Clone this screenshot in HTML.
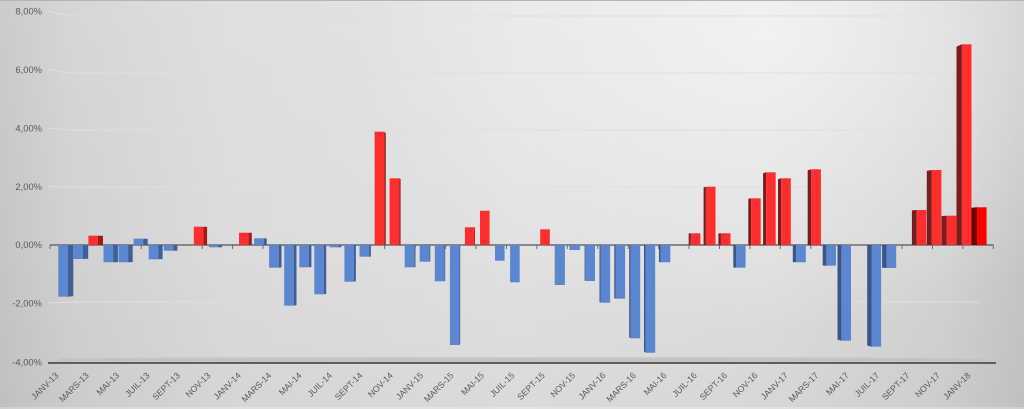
<!DOCTYPE html>
<html>
<head>
<meta charset="utf-8">
<style>
html,body{margin:0;padding:0;}
#c{position:relative;width:1024px;height:409px;overflow:hidden;
background:
 radial-gradient(ellipse 420px 300px at 770px 35px, rgba(255,255,255,0.55), rgba(255,255,255,0) 100%),
 linear-gradient(180deg, rgba(255,255,255,0.10) 0%, rgba(255,255,255,0) 55%, rgba(0,0,0,0.03) 100%),
 linear-gradient(90deg,#c6c6c6 0%,#d2d2d2 7%,#dcdcdc 22%,#e1e1e1 50%,#dedede 75%,#d3d3d3 92%,#c6c6c6 100%);
box-shadow:inset 0 1px 0 #b4b4b4, inset 0 -2px 0 rgba(255,255,255,0.25);}
svg{position:absolute;left:0;top:0;}
.yl{font-family:"Liberation Sans",sans-serif;font-size:9.4px;fill:#595959;}
.xl{font-family:"Liberation Sans",sans-serif;font-size:8.7px;fill:#595959;}
.b{fill:#5a87d0}.bs1{fill:#3f5f95}.bs2{fill:#3a5586}
.r{fill:#ff2e2e}.rs1{fill:#a01a1a}.rs2{fill:#781d1d}
.r2{fill:#ff0000}.r2s{fill:#6a0000}
.g{stroke:#dfdfdf;stroke-width:1.1;fill:none}
</style>
</head>
<body>
<div id="c">
<svg width="1024" height="409" viewBox="0 0 1024 409" xmlns="http://www.w3.org/2000/svg">
<!-- gridlines -->
<polyline class="g" points="48,11 62,14.5 72,16 979,16"/>
<polyline class="g" points="48,69.5 62,72 72,73 979,73"/>
<polyline class="g" points="48,128 62,129.5 72,130 979,130"/>
<polyline class="g" points="48,186.5 62,187 72,187 979,187"/>
<polyline class="g" points="48,303 62,302.3 72,302 979,302"/>
<!-- floor -->
<polygon points="65,357 978,357 996,362.5 50,362.5" fill="#c4c4c4"/>
<line x1="65" y1="357.3" x2="978" y2="357.3" stroke="#d2d2d2" stroke-width="0.8"/>
<line x1="48" y1="363" x2="996" y2="363" stroke="#5e5e5e" stroke-width="2"/>
<!-- y labels -->
<text class="yl" x="42" y="14.4" text-anchor="end">8,00%</text>
<text class="yl" x="42" y="72.9" text-anchor="end">6,00%</text>
<text class="yl" x="42" y="131.4" text-anchor="end">4,00%</text>
<text class="yl" x="42" y="189.9" text-anchor="end">2,00%</text>
<text class="yl" x="42" y="247.9" text-anchor="end">0,00%</text>
<text class="yl" x="42" y="306.4" text-anchor="end">-2,00%</text>
<text class="yl" x="42" y="365.4" text-anchor="end">-4,00%</text>
<!-- zero axis -->
<line x1="50" y1="245" x2="993.5" y2="245" stroke="#6a6a6a" stroke-width="1.6"/>
<g stroke="#6a6a6a" stroke-width="1">
<line x1="50" y1="245" x2="50" y2="249"/><line x1="80.4" y1="245" x2="80.4" y2="249"/><line x1="110.9" y1="245" x2="110.9" y2="249"/><line x1="141.3" y1="245" x2="141.3" y2="249"/><line x1="171.7" y1="245" x2="171.7" y2="249"/><line x1="202.2" y1="245" x2="202.2" y2="249"/><line x1="232.6" y1="245" x2="232.6" y2="249"/><line x1="263" y1="245" x2="263" y2="249"/><line x1="293.4" y1="245" x2="293.4" y2="249"/><line x1="323.9" y1="245" x2="323.9" y2="249"/><line x1="354.3" y1="245" x2="354.3" y2="249"/><line x1="384.7" y1="245" x2="384.7" y2="249"/><line x1="415.2" y1="245" x2="415.2" y2="249"/><line x1="445.6" y1="245" x2="445.6" y2="249"/><line x1="476" y1="245" x2="476" y2="249"/><line x1="506.5" y1="245" x2="506.5" y2="249"/><line x1="536.9" y1="245" x2="536.9" y2="249"/><line x1="567.3" y1="245" x2="567.3" y2="249"/><line x1="597.7" y1="245" x2="597.7" y2="249"/><line x1="628.2" y1="245" x2="628.2" y2="249"/><line x1="658.6" y1="245" x2="658.6" y2="249"/><line x1="689" y1="245" x2="689" y2="249"/><line x1="719.5" y1="245" x2="719.5" y2="249"/><line x1="749.9" y1="245" x2="749.9" y2="249"/><line x1="780.3" y1="245" x2="780.3" y2="249"/><line x1="810.8" y1="245" x2="810.8" y2="249"/><line x1="841.2" y1="245" x2="841.2" y2="249"/><line x1="871.6" y1="245" x2="871.6" y2="249"/><line x1="902" y1="245" x2="902" y2="249"/><line x1="932.5" y1="245" x2="932.5" y2="249"/><line x1="962.9" y1="245" x2="962.9" y2="249"/><line x1="993.3" y1="245" x2="993.3" y2="249"/>
</g>
<!-- bars -->
<rect class="b" x="58.3" y="245" width="9.6" height="51.7"/><polygon class="bs1" points="67.9,245 67.9,296.7 73.3,296.1 73.3,245"/>
<rect class="b" x="73.4" y="245" width="9.6" height="14"/><polygon class="bs1" points="83,245 83,259 88.2,258.8 88.2,245"/>
<rect class="r" x="88.4" y="235.7" width="9.6" height="9.3"/><polygon class="rs1" points="98,245 98,235.7 103,235.8 103,245"/>
<rect class="b" x="103.5" y="245" width="9.6" height="17.3"/><polygon class="bs1" points="113.1,245 113.1,262.3 117.9,262.1 117.9,245"/>
<rect class="b" x="118.5" y="245" width="9.6" height="17.3"/><polygon class="bs1" points="128.1,245 128.1,262.3 132.7,262.1 132.7,245"/>
<rect class="b" x="133.6" y="238.7" width="9.6" height="6.3"/><polygon class="bs1" points="143.2,245 143.2,238.7 147.7,238.8 147.7,245"/>
<rect class="b" x="148.7" y="245" width="9.6" height="14.3"/><polygon class="bs1" points="158.3,245 158.3,259.3 162.6,259.1 162.6,245"/>
<rect class="b" x="163.7" y="245" width="9.6" height="5.7"/><polygon class="bs1" points="173.3,245 173.3,250.7 177.4,250.6 177.4,245"/>
<rect class="r" x="193.8" y="226.7" width="9.6" height="18.3"/><polygon class="rs1" points="203.4,245 203.4,226.7 207.1,226.9 207.1,245"/>
<rect class="b" x="208.9" y="245" width="9.6" height="2.3"/><polygon class="bs1" points="218.5,245 218.5,247.3 222.1,247.3 222.1,245"/>
<rect class="r" x="239" y="232.7" width="9.6" height="12.3"/><polygon class="rs1" points="248.6,245 248.6,232.7 251.8,232.8 251.8,245"/>
<rect class="b" x="254.1" y="238.3" width="9.6" height="6.7"/><polygon class="bs1" points="263.7,245 263.7,238.3 266.7,238.4 266.7,245"/>
<rect class="b" x="269.1" y="245" width="9.6" height="22.7"/><polygon class="bs1" points="278.7,245 278.7,267.7 281.5,267.4 281.5,245"/>
<rect class="b" x="284.2" y="245" width="9.6" height="60.7"/><polygon class="bs1" points="293.8,245 293.8,305.7 296.5,305 296.5,245"/>
<rect class="b" x="299.3" y="245" width="9.6" height="22.3"/><polygon class="bs1" points="308.9,245 308.9,267.3 311.4,267 311.4,245"/>
<rect class="b" x="314.3" y="245" width="9.6" height="49.3"/><polygon class="bs1" points="323.9,245 323.9,294.3 326.2,293.7 326.2,245"/>
<rect class="b" x="329.4" y="245" width="9.6" height="2.3"/><polygon class="bs1" points="339,245 339,247.3 341.1,247.3 341.1,245"/>
<rect class="b" x="344.4" y="245" width="9.6" height="36.7"/><polygon class="bs1" points="354,245 354,281.7 355.9,281.3 355.9,245"/>
<rect class="b" x="359.5" y="245" width="9.6" height="11.7"/><polygon class="bs1" points="369.1,245 369.1,256.7 370.9,256.6 370.9,245"/>
<rect class="r" x="374.6" y="131.7" width="9.6" height="113.3"/><polygon class="rs1" points="384.2,245 384.2,131.7 385.8,133.1 385.8,245"/>
<rect class="r" x="389.6" y="178.3" width="9.6" height="66.7"/><polygon class="rs1" points="399.2,245 399.2,178.3 400.6,179.1 400.6,245"/>
<rect class="b" x="404.7" y="245" width="9.6" height="22.3"/><polygon class="bs1" points="414.3,245 414.3,267.3 415.5,267 415.5,245"/>
<rect class="b" x="419.7" y="245" width="9.6" height="16.7"/><polygon class="bs1" points="429.3,245 429.3,261.7 430.3,261.5 430.3,245"/>
<rect class="b" x="434.8" y="245" width="9.6" height="36.3"/><polygon class="bs1" points="444.4,245 444.4,281.3 445.2,280.9 445.2,245"/>
<rect class="b" x="449.9" y="245" width="9.6" height="100"/><polygon class="bs1" points="459.5,245 459.5,345 460.2,343.8 460.2,245"/>
<rect class="r" x="464.9" y="227.3" width="9.6" height="17.7"/><polygon class="rs1" points="474.5,245 474.5,227.3 475,227.5 475,245"/>
<rect class="r" x="480" y="210.7" width="9.6" height="34.3"/>
<rect class="b" x="495" y="245" width="9.6" height="15.7"/>
<rect class="b" x="510.1" y="245" width="9.6" height="37.3"/>
<rect class="r" x="540.2" y="229.3" width="9.6" height="15.7"/>
<polygon class="bs2" points="555.3,245 555.3,285 554.8,284.5 554.8,245"/><rect class="b" x="555.3" y="245" width="9.6" height="40"/>
<polygon class="bs2" points="570.3,245 570.3,250 569.6,250 569.6,245"/><rect class="b" x="570.3" y="245" width="9.6" height="5"/>
<polygon class="bs2" points="585.4,245 585.4,281 584.6,280.6 584.6,245"/><rect class="b" x="585.4" y="245" width="9.6" height="36"/>
<polygon class="bs2" points="600.5,245 600.5,302.7 599.5,302 599.5,245"/><rect class="b" x="600.5" y="245" width="9.6" height="57.7"/>
<polygon class="bs2" points="615.5,245 615.5,298.7 614.3,298.1 614.3,245"/><rect class="b" x="615.5" y="245" width="9.6" height="53.7"/>
<polygon class="bs2" points="630.6,245 630.6,338.3 629.2,337.2 629.2,245"/><rect class="b" x="630.6" y="245" width="9.6" height="93.3"/>
<polygon class="bs2" points="645.6,245 645.6,352.7 644,351.4 644,245"/><rect class="b" x="645.6" y="245" width="9.6" height="107.7"/>
<polygon class="bs2" points="660.7,245 660.7,262.3 659,262.1 659,245"/><rect class="b" x="660.7" y="245" width="9.6" height="17.3"/>
<polygon class="rs2" points="690.8,245 690.8,233.3 688.7,233.4 688.7,245"/><rect class="r" x="690.8" y="233.3" width="9.6" height="11.7"/>
<polygon class="rs2" points="705.9,245 705.9,186.7 703.6,187.4 703.6,245"/><rect class="r" x="705.9" y="186.7" width="9.6" height="58.3"/>
<polygon class="rs2" points="720.9,245 720.9,233.3 718.4,233.4 718.4,245"/><rect class="r" x="720.9" y="233.3" width="9.6" height="11.7"/>
<polygon class="bs2" points="736,245 736,267.7 733.3,267.4 733.3,245"/><rect class="b" x="736" y="245" width="9.6" height="22.7"/>
<polygon class="rs2" points="751.1,245 751.1,198.3 748.3,198.9 748.3,245"/><rect class="r" x="751.1" y="198.3" width="9.6" height="46.7"/>
<polygon class="rs2" points="766.1,245 766.1,172.3 763.1,173.2 763.1,245"/><rect class="r" x="766.1" y="172.3" width="9.6" height="72.7"/>
<polygon class="rs2" points="781.2,245 781.2,178.3 778,179.1 778,245"/><rect class="r" x="781.2" y="178.3" width="9.6" height="66.7"/>
<polygon class="bs2" points="796.2,245 796.2,262.3 792.8,262.1 792.8,245"/><rect class="b" x="796.2" y="245" width="9.6" height="17.3"/>
<polygon class="rs2" points="811.3,245 811.3,169.3 807.7,170.2 807.7,245"/><rect class="r" x="811.3" y="169.3" width="9.6" height="75.7"/>
<polygon class="bs2" points="826.4,245 826.4,265.7 822.7,265.5 822.7,245"/><rect class="b" x="826.4" y="245" width="9.6" height="20.7"/>
<polygon class="bs2" points="841.4,245 841.4,340.7 837.5,339.6 837.5,245"/><rect class="b" x="841.4" y="245" width="9.6" height="95.7"/>
<polygon class="bs2" points="871.5,245 871.5,346.7 867.2,345.5 867.2,245"/><rect class="b" x="871.5" y="245" width="9.6" height="101.7"/>
<polygon class="bs2" points="886.6,245 886.6,268 882.1,267.7 882.1,245"/><rect class="b" x="886.6" y="245" width="9.6" height="23"/>
<polygon class="rs2" points="916.7,245 916.7,210 911.9,210.4 911.9,245"/><rect class="r" x="916.7" y="210" width="9.6" height="35"/>
<polygon class="rs2" points="931.8,245 931.8,170 926.8,170.9 926.8,245"/><rect class="r" x="931.8" y="170" width="9.6" height="75"/>
<polygon class="rs2" points="946.8,245 946.8,215.7 941.6,216.1 941.6,245"/><rect class="r" x="946.8" y="215.7" width="9.6" height="29.3"/>
<polygon class="rs2" points="961.9,245 961.9,44.3 956.5,46.7 956.5,245"/><rect class="r" x="961.9" y="44.3" width="9.6" height="200.7"/>
<polygon class="r2s" points="977,245 977,207.3 971.5,207.8 971.5,245"/><rect class="r2" x="977" y="207.3" width="9.6" height="37.7"/>
<!-- x labels -->
<g class="xl" text-anchor="end">
<text transform="translate(59,376) rotate(-45)">JANV-13</text>
<text transform="translate(89.4,376) rotate(-45)">MARS-13</text>
<text transform="translate(119.8,376) rotate(-45)">MAI-13</text>
<text transform="translate(150.2,376) rotate(-45)">JUIL-13</text>
<text transform="translate(180.6,376) rotate(-45)">SEPT-13</text>
<text transform="translate(211,376) rotate(-45)">NOV-13</text>
<text transform="translate(241.4,376) rotate(-45)">JANV-14</text>
<text transform="translate(271.8,376) rotate(-45)">MARS-14</text>
<text transform="translate(302.2,376) rotate(-45)">MAI-14</text>
<text transform="translate(332.6,376) rotate(-45)">JUIL-14</text>
<text transform="translate(363,376) rotate(-45)">SEPT-14</text>
<text transform="translate(393.4,376) rotate(-45)">NOV-14</text>
<text transform="translate(423.8,376) rotate(-45)">JANV-15</text>
<text transform="translate(454.2,376) rotate(-45)">MARS-15</text>
<text transform="translate(484.6,376) rotate(-45)">MAI-15</text>
<text transform="translate(515,376) rotate(-45)">JUIL-15</text>
<text transform="translate(545.4,376) rotate(-45)">SEPT-15</text>
<text transform="translate(575.8,376) rotate(-45)">NOV-15</text>
<text transform="translate(606.2,376) rotate(-45)">JANV-16</text>
<text transform="translate(636.6,376) rotate(-45)">MARS-16</text>
<text transform="translate(667,376) rotate(-45)">MAI-16</text>
<text transform="translate(697.4,376) rotate(-45)">JUIL-16</text>
<text transform="translate(727.8,376) rotate(-45)">SEPT-16</text>
<text transform="translate(758.2,376) rotate(-45)">NOV-16</text>
<text transform="translate(788.6,376) rotate(-45)">JANV-17</text>
<text transform="translate(819,376) rotate(-45)">MARS-17</text>
<text transform="translate(849.4,376) rotate(-45)">MAI-17</text>
<text transform="translate(879.8,376) rotate(-45)">JUIL-17</text>
<text transform="translate(910.2,376) rotate(-45)">SEPT-17</text>
<text transform="translate(940.6,376) rotate(-45)">NOV-17</text>
<text transform="translate(971,376) rotate(-45)">JANV-18</text>
</g>
</svg>
</div>
</body>
</html>
